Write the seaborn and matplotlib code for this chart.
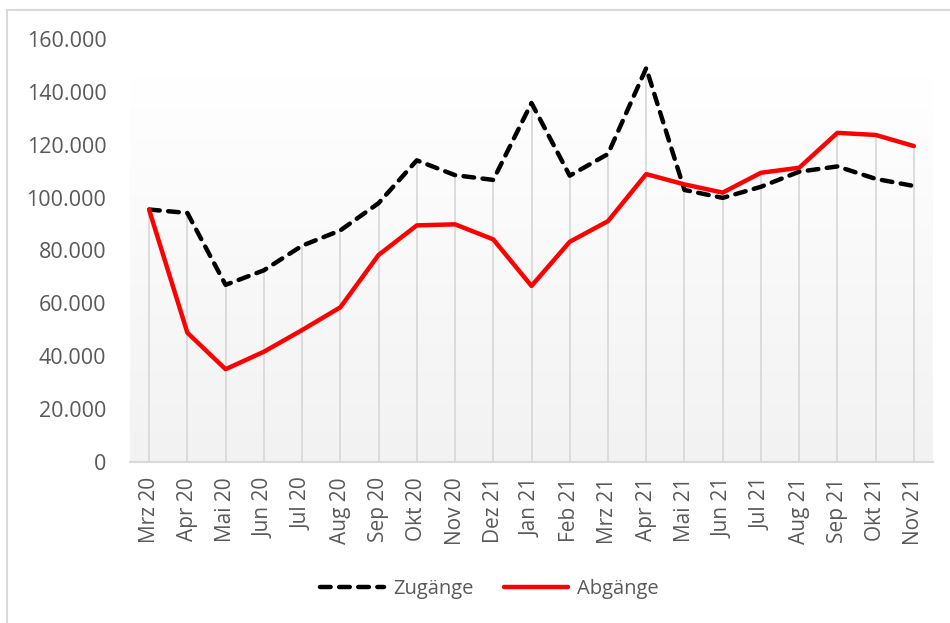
import numpy as np
import pandas as pd
import matplotlib
matplotlib.use("Agg")
import matplotlib.pyplot as plt
import seaborn as sns
from matplotlib.lines import Line2D
from matplotlib.ticker import FuncFormatter

months = ["Mrz 20", "Apr 20", "Mai 20", "Jun 20", "Jul 20", "Aug 20", "Sep 20",
          "Okt 20", "Nov 20", "Dez 21", "Jan 21", "Feb 21", "Mrz 21", "Apr 21",
          "Mai 21", "Jun 21", "Jul 21", "Aug 21", "Sep 21", "Okt 21", "Nov 21"]
zugaenge = [95500, 94200, 67000, 72500, 81800, 87600, 97900, 114100, 108500,
            106700, 135800, 108300, 116500, 149000, 102900, 99900, 104100,
            109800, 111800, 107100, 104400]
abgaenge = [95400, 48900, 35100, 41700, 49900, 58500, 78300, 89500, 89900,
            84200, 66600, 83300, 91100, 108900, 105000, 101900, 109400,
            111300, 124500, 123700, 119500]
series_names = ["Zugänge", "Abgänge"]
yticks = [0, 20000, 40000, 60000, 80000, 100000, 120000, 140000, 160000]

sns.set_theme(style="white")
plt.rcParams["font.family"] = ["Open Sans", "DejaVu Sans"]

df = pd.DataFrame({
    "Monat": pd.Categorical(months * 2, categories=months, ordered=True),
    "Wert": zugaenge + abgaenge,
    "Serie": [series_names[0]] * len(months) + [series_names[1]] * len(months),
})

fig = plt.figure(figsize=(9.5, 6.23), dpi=100)
W, H = 950, 623
ax = fig.add_axes([130 / W, 1 - 462 / H, (933 - 130) / W, (462 - 39) / H])

n = len(months)
# gradient background of plot area
grad = np.linspace(0, 1, 256).reshape(-1, 1)
vals = np.clip(grad / (145000 / 160000), 0, 1)
col = 242 + (255 - 242) * vals
img = np.dstack([col, col, col]) / 255.0
ax.imshow(img, extent=[-0.5, n - 0.5, 0, 160000], origin="lower",
          aspect="auto", zorder=0, interpolation="bilinear")

# drop lines
pos = np.arange(n)
tops = np.maximum(zugaenge, abgaenge)
ax.vlines(pos, 0, tops, colors="#d9d9d9", linewidth=1.3, zorder=1)

sns.lineplot(data=df, x="Monat", y="Wert", hue="Serie", style="Serie",
             palette={"Zugänge": "#000000", "Abgänge": "#ff0000"},
             dashes={"Zugänge": (2.4, 1.9), "Abgänge": ""},
             linewidth=3.2, sort=False, legend=False, ax=ax, zorder=3)
for ln in ax.lines:
    ln.set_dash_capstyle("round")
    ln.set_solid_capstyle("round")
    ln.set_solid_joinstyle("round")
    ln.set_clip_on(False)

ax.set_xlim(-0.5, n - 0.5)
ax.set_ylim(0, 160000)
ax.set_yticks(yticks)
ax.yaxis.set_major_formatter(FuncFormatter(lambda v, p: f"{int(v):,}".replace(",", ".")))
ax.set_xticks(pos)
ax.set_xticklabels(months, rotation=90)
ax.set_xlabel("")
ax.set_ylabel("")
ax.tick_params(axis="y", length=0, pad=17, labelsize=15.5, labelcolor="#595959")
ax.tick_params(axis="x", length=0, pad=11, labelsize=15, labelcolor="#595959")
for s in ["top", "right", "left"]:
    ax.spines[s].set_visible(False)
ax.spines["bottom"].set_color("#d9d9d9")
ax.spines["bottom"].set_linewidth(1.5)
ax.grid(False)
ax.set_facecolor("white")

handles = [
    Line2D([], [], color="#000000", lw=3.2, dashes=(2.4, 1.9), dash_capstyle="round"),
    Line2D([], [], color="#ff0000", lw=3.2, solid_capstyle="round"),
]
leg = fig.legend(handles, series_names, loc="center", bbox_to_anchor=(0.515, 1 - 589 / H),
                 ncol=2, frameon=False, fontsize=14.5, handlelength=3.2,
                 handletextpad=0.45, columnspacing=1.5)
for t in leg.get_texts():
    t.set_color("#595959")

# outer border (left and top visible)
fig.add_artist(Line2D([7 / W, 7 / W], [0, 1 - 10 / H], transform=fig.transFigure,
                      color="#d9d9d9", lw=1.5))
fig.add_artist(Line2D([7 / W, 1], [1 - 10 / H, 1 - 10 / H], transform=fig.transFigure,
                      color="#d9d9d9", lw=1.5))

fig.savefig("out.png", dpi=100)
